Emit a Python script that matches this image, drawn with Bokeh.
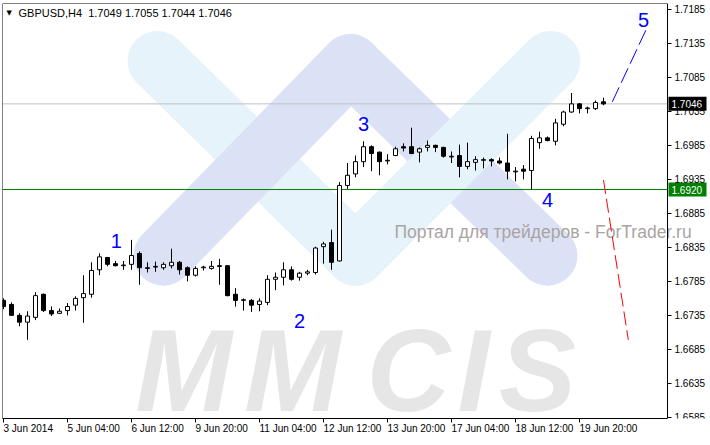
import numpy as np
from bokeh.plotting import figure
from bokeh.models import Range1d, FixedTicker, Label, PrintfTickFormatter, LinearAxis
from bokeh.embed import file_html
from bokeh.resources import INLINE
from bokeh.core.properties import value

# ---------------- data ----------------
opens = [1.6757, 1.6751, 1.6735, 1.6725, 1.6732, 1.6766, 1.6742, 1.6738, 1.6742, 1.6750,
         1.6761, 1.6766, 1.6802, 1.6820, 1.6811, 1.6808, 1.6810, 1.6826, 1.6805, 1.6806,
         1.6805, 1.6808, 1.6813, 1.6805, 1.6794, 1.6805, 1.6804, 1.6808, 1.6808, 1.6766,
         1.6757, 1.6757, 1.6751, 1.6754, 1.6788, 1.6791, 1.6802, 1.6791, 1.6797, 1.6798,
         1.6836, 1.6842, 1.6815, 1.6926, 1.6943, 1.6961, 1.6983, 1.6975, 1.6962, 1.6970,
         1.6983, 1.6983, 1.6975, 1.6982, 1.6985, 1.6982, 1.6969, 1.6970, 1.6954, 1.6960,
         1.6963, 1.6964, 1.6962, 1.6959, 1.6946, 1.6950, 1.6948, 1.6989, 1.6996, 1.6991,
         1.7016, 1.7034, 1.7046, 1.7039, 1.7039, 1.7049]
highs = [1.6760, 1.6754, 1.6738, 1.6741, 1.6769, 1.6767, 1.6748, 1.6745, 1.6753, 1.6763,
         1.6794, 1.6813, 1.6826, 1.6821, 1.6815, 1.6815, 1.6846, 1.6829, 1.6813, 1.6814,
         1.6813, 1.6833, 1.6815, 1.6807, 1.6807, 1.6808, 1.6815, 1.6818, 1.6809, 1.6775,
         1.6760, 1.6759, 1.6760, 1.6794, 1.6798, 1.6813, 1.6807, 1.6799, 1.6802, 1.6836,
         1.6843, 1.6861, 1.6931, 1.6959, 1.6970, 1.6991, 1.6985, 1.6976, 1.6972, 1.6983,
         1.6988, 1.7011, 1.6982, 1.6992, 1.6986, 1.6983, 1.6976, 1.6986, 1.6989, 1.6969,
         1.6967, 1.6966, 1.6967, 1.7002, 1.6953, 1.6956, 1.6999, 1.7005, 1.6998, 1.7024,
         1.7036, 1.7062, 1.7047, 1.7042, 1.7051, 1.7055]
lows = [1.6744, 1.6734, 1.6719, 1.6699, 1.6728, 1.6740, 1.6734, 1.6737, 1.6735, 1.6742,
        1.6724, 1.6761, 1.6794, 1.6807, 1.6807, 1.6802, 1.6802, 1.6780, 1.6798, 1.6799,
        1.6802, 1.6804, 1.6795, 1.6785, 1.6792, 1.6801, 1.6802, 1.6780, 1.6763, 1.6748,
        1.6742, 1.6740, 1.6741, 1.6750, 1.6772, 1.6779, 1.6786, 1.6786, 1.6794, 1.6795,
        1.6811, 1.6802, 1.6814, 1.6921, 1.6938, 1.6953, 1.6947, 1.6941, 1.6957, 1.6969,
        1.6976, 1.6972, 1.6960, 1.6976, 1.6975, 1.6967, 1.6959, 1.6938, 1.6950, 1.6948,
        1.6951, 1.6954, 1.6957, 1.6935, 1.6932, 1.6935, 1.6920, 1.6980, 1.6991, 1.6985,
        1.7013, 1.7033, 1.7032, 1.7032, 1.7037, 1.7044]
closes = [1.6748, 1.6735, 1.6725, 1.6734, 1.6764, 1.6742, 1.6737, 1.6741, 1.6748, 1.6760,
          1.6767, 1.6801, 1.6821, 1.6810, 1.6808, 1.6809, 1.6823, 1.6805, 1.6804, 1.6807,
          1.6810, 1.6813, 1.6802, 1.6794, 1.6804, 1.6806, 1.6807, 1.6807, 1.6764, 1.6757,
          1.6758, 1.6750, 1.6756, 1.6788, 1.6791, 1.6802, 1.6788, 1.6797, 1.6799, 1.6834,
          1.6840, 1.6813, 1.6926, 1.6941, 1.6961, 1.6983, 1.6973, 1.6961, 1.6963, 1.6980,
          1.6981, 1.6973, 1.6980, 1.6985, 1.6982, 1.6969, 1.6968, 1.6954, 1.6961, 1.6964,
          1.6964, 1.6962, 1.6959, 1.6947, 1.6947, 1.6947, 1.6995, 1.6996, 1.6992, 1.7018,
          1.7034, 1.7046, 1.7039, 1.7040, 1.7048, 1.7046]

time_labels = ["3 Jun 2014", "5 Jun 04:00", "6 Jun 12:00", "9 Jun 20:00", "11 Jun 04:00",
               "12 Jun 12:00", "13 Jun 20:00", "17 Jun 04:00", "18 Jun 12:00", "19 Jun 20:00"]
time_label_bars = [0, 8, 16, 24, 32, 40, 48, 56, 64, 72]
price_ticks = [1.6585, 1.6635, 1.6685, 1.6735, 1.6785, 1.6835, 1.6885,
               1.6935, 1.6985, 1.7035, 1.7085, 1.7135, 1.7185]

symbol = "GBPUSD,H4"
bid_price = 1.7046
level_price = 1.6920

wave_names = ["1", "2", "3", "4", "5"]
wave_bars = [14.1, 37.0, 45.0, 68.0, 80.0]
wave_prices = [1.6845, 1.6726, 1.7017, 1.6905, 1.7170]

proj_up_bars = [76.1, 80.4]
proj_up_prices = [1.7049, 1.7157]
proj_dn_bars = [75.0, 78.1]
proj_dn_prices = [1.6934, 1.6699]

# ---------------- figure ----------------
X0, X1 = -0.125, 88.25      # frame spans the chart plus the price-scale strip
AXIS_X = 83.0               # where the price scale sits
Y0, Y1 = 1.65833, 1.71936

p = figure(width=709, height=442, output_backend="svg", toolbar_location=None,
           x_range=Range1d(X0, X1), y_range=Range1d(Y0, Y1),
           y_axis_location=None,
           min_border_left=2, min_border_top=3, min_border_right=0, min_border_bottom=21,
           background_fill_color="white", border_fill_color="white",
           outline_line_color=None)
p.grid.visible = False


# decorative watermark helpers (reference-pixel -> data)
def dx(px):
    return (px - 2) / 8.0 - 0.125


def dy(py):
    return 1.7198 - 0.000146 * py


lav = "#dce2f5"
cya = "#e6f3fa"
LW = 60
# watermark logo strokes (order gives the over/under crossings)
p.line([dx(157), dx(355)], [dy(61), dy(257)], line_width=LW, line_cap="round", color=cya)
p.line([dx(350), dx(547)], [dy(64), dy(257)], line_width=LW, line_cap="round", color=lav)
p.line([dx(163), dx(350)], [dy(257), dy(64)], line_width=LW, line_cap="round", color=lav)
p.line([dx(355), dx(550)], [dy(257), dy(61)], line_width=LW, line_cap="round", color=cya)

# MMCIS watermark letters
p.text(x=[dx(v) for v in [183, 292, 408, 473, 537]], y=[dy(373)] * 5, text=list("MMCIS"),
       text_align="center", text_baseline="middle", text_color="#e6e6e6",
       text_font=value("Liberation Sans"), text_font_style="bold italic", text_font_size="116px")

p.text(x=[dx(394)], y=[dy(233)], text=["Портал для трейдеров - ForTrader.ru"],
       text_baseline="middle", text_color="#aaa3a3",
       text_font=value("Liberation Sans"), text_font_size="17.5px")

# level lines (only across the chart area)
p.line([X0, AXIS_X], [bid_price, bid_price], line_color="#c0c0c0", line_width=1)
p.line([X0, AXIS_X], [level_price, level_price], line_color="#008000", line_width=1)

# candles
idx = np.arange(len(opens))
o = np.array(opens); h = np.array(highs); l = np.array(lows); c = np.array(closes)
up = c >= o
dn = ~up
p.segment(idx, h, idx, l, color="black", line_width=1)
p.vbar(x=idx[up], top=c[up], bottom=o[up], width=0.5, fill_color="white", line_color="black", line_width=1)
p.vbar(x=idx[dn], top=o[dn], bottom=c[dn], width=0.5, fill_color="black", line_color="black", line_width=1)

# wave labels and projections
p.text(x=wave_bars, y=wave_prices, text=wave_names, text_align="center", text_baseline="middle",
       text_color="#0000ff", text_font=value("Liberation Sans"), text_font_size="20px")
p.line(proj_up_bars, proj_up_prices, color="#0000ff", line_width=1, line_dash="16 5")
p.line(proj_dn_bars, proj_dn_prices, color="#ff0000", line_width=1, line_dash="14 5")

# price boxes on the price scale
box_x = AXIS_X + 20 / 8.0
p.rect(x=[box_x], y=[bid_price], width=38, height=14,
       width_units="screen", height_units="screen", fill_color="black", line_color=None)
p.rect(x=[box_x], y=[level_price], width=38, height=14,
       width_units="screen", height_units="screen", fill_color="#008000", line_color=None)
p.text(x=[AXIS_X, AXIS_X], y=[bid_price, level_price],
       text=[f"{bid_price:.4f}", f"{level_price:.4f}"], x_offset=4,
       text_baseline="middle", text_color="white",
       text_font=value("Liberation Sans"), text_font_size="10px")

# axes
ax = LinearAxis(fixed_location=AXIS_X, ticker=FixedTicker(ticks=price_ticks),
                formatter=PrintfTickFormatter(format="%.4f"))
ax.major_tick_out = 4
ax.major_tick_in = 0
ax.minor_tick_line_color = None
ax.major_label_standoff = 3
ax.major_label_text_font = "Liberation Sans"
ax.major_label_text_font_size = "10px"
ax.major_label_text_color = "black"
ax.axis_line_color = "black"
p.add_layout(ax, "right")

left_border = LinearAxis(fixed_location=X0, ticker=FixedTicker(ticks=[]),
                         major_tick_line_color=None, minor_tick_line_color=None,
                         major_label_text_color=None, axis_line_color="black")
p.add_layout(left_border, "left")
top_border = LinearAxis(fixed_location=Y1, ticker=FixedTicker(ticks=[]), bounds=(X0, AXIS_X),
                        major_tick_line_color=None, minor_tick_line_color=None,
                        major_label_text_color=None, axis_line_color="black")
p.add_layout(top_border, "above")

bx = p.below[0]
bx.bounds = (X0, AXIS_X)
bx.ticker = FixedTicker(ticks=time_label_bars)
bx.major_label_overrides = {t: s for t, s in zip(time_label_bars, time_labels)}
bx.major_label_orientation = -0.0001   # tiny tilt -> labels start at their tick (left aligned)
bx.major_tick_out = 4
bx.major_tick_in = 0
bx.minor_tick_line_color = None
bx.major_label_standoff = 6
bx.major_label_text_font = "Liberation Sans"
bx.major_label_text_font_size = "10px"
bx.major_label_text_color = "black"
bx.axis_line_color = "black"

# header
p.add_layout(Label(x=X0, y=Y1, x_offset=4, y_offset=-5, text="▼", text_baseline="top",
                   text_color="black", text_font="DejaVu Sans", text_font_size="7px"))
hdr = f"{symbol}\u00a0\u00a0{opens[-1]:.4f} {highs[-1]:.4f} {lows[-1]:.4f} {closes[-1]:.4f}"
p.add_layout(Label(x=X0, y=Y1, x_offset=16, y_offset=-3, text=hdr, text_baseline="top",
                   text_color="black", text_font="Liberation Sans", text_font_size="11px"))

open("out.html", "w").write(file_html(p, INLINE))
